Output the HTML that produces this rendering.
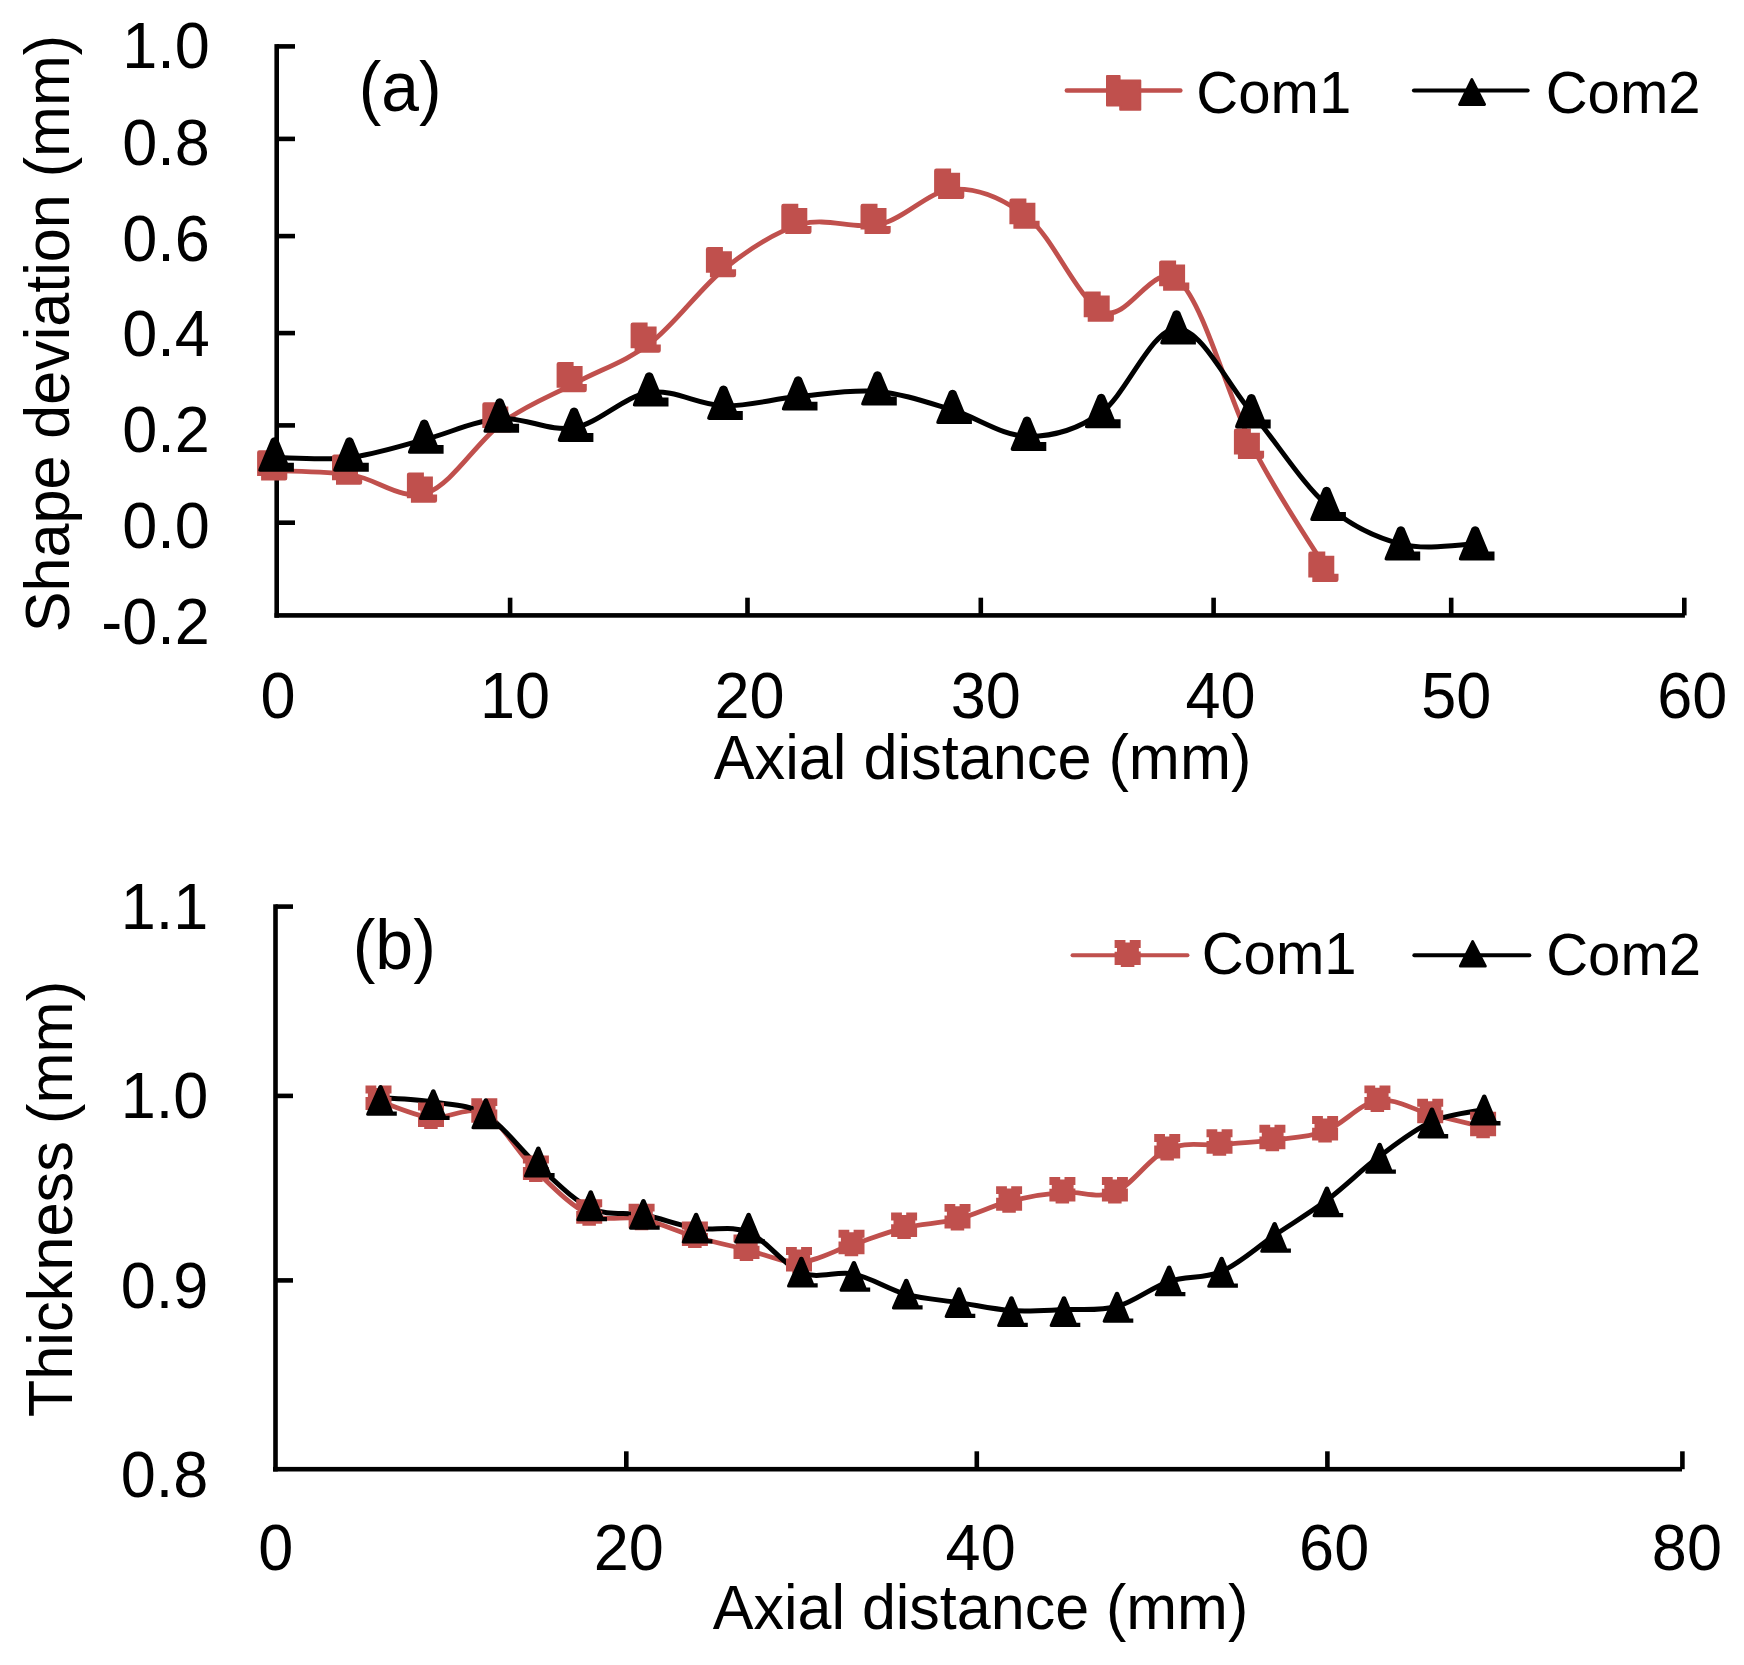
<!DOCTYPE html>
<html><head><meta charset="utf-8"><title>Shape deviation and thickness charts</title>
<style>
html,body{margin:0;padding:0;background:#fff;}
body{width:1744px;height:1665px;overflow:hidden;}
svg{display:block;}
text{font-family:"Liberation Sans", sans-serif;fill:#000;}
</style></head>
<body>
<svg xmlns="http://www.w3.org/2000/svg" width="1744" height="1665" viewBox="0 0 1744 1665">
<rect x="0" y="0" width="1744" height="1665" fill="#fff"/>
<rect x="274.40" y="44.10" width="4.60" height="573.60" fill="#000"/>
<rect x="276.70" y="44.10" width="18.30" height="4.60" fill="#000"/>
<rect x="276.70" y="136.60" width="18.30" height="4.60" fill="#000"/>
<rect x="276.70" y="233.80" width="18.30" height="4.60" fill="#000"/>
<rect x="276.70" y="330.80" width="18.30" height="4.60" fill="#000"/>
<rect x="276.70" y="423.10" width="18.30" height="4.60" fill="#000"/>
<rect x="276.70" y="520.40" width="18.30" height="4.60" fill="#000"/>
<rect x="274.50" y="613.10" width="1410.40" height="4.60" fill="#000"/>
<rect x="507.80" y="597.70" width="4.60" height="17.70" fill="#000"/>
<rect x="745.20" y="597.70" width="4.60" height="17.70" fill="#000"/>
<rect x="978.50" y="597.70" width="4.60" height="17.70" fill="#000"/>
<rect x="1211.30" y="597.70" width="4.60" height="17.70" fill="#000"/>
<rect x="1448.90" y="597.70" width="4.60" height="17.70" fill="#000"/>
<rect x="1682.00" y="597.70" width="4.60" height="17.70" fill="#000"/>
<text x="0" y="0" transform="translate(209.80,68.45) scale(1,1.03)" font-size="63.0" text-anchor="end">1.0</text>
<text x="0" y="0" transform="translate(209.80,164.55) scale(1,1.03)" font-size="63.0" text-anchor="end">0.8</text>
<text x="0" y="0" transform="translate(209.80,260.65) scale(1,1.03)" font-size="63.0" text-anchor="end">0.6</text>
<text x="0" y="0" transform="translate(209.80,355.95) scale(1,1.03)" font-size="63.0" text-anchor="end">0.4</text>
<text x="0" y="0" transform="translate(209.80,452.20) scale(1,1.03)" font-size="63.0" text-anchor="end">0.2</text>
<text x="0" y="0" transform="translate(209.80,548.30) scale(1,1.03)" font-size="63.0" text-anchor="end">0.0</text>
<text x="0" y="0" transform="translate(209.80,643.95) scale(1,1.03)" font-size="63.0" text-anchor="end">-0.2</text>
<text x="0" y="0" transform="translate(278.05,717.90) scale(1,1.03)" font-size="63.0" text-anchor="middle">0</text>
<text x="0" y="0" transform="translate(515.00,717.90) scale(1,1.03)" font-size="63.0" text-anchor="middle">10</text>
<text x="0" y="0" transform="translate(749.55,717.90) scale(1,1.03)" font-size="63.0" text-anchor="middle">20</text>
<text x="0" y="0" transform="translate(985.75,717.90) scale(1,1.03)" font-size="63.0" text-anchor="middle">30</text>
<text x="0" y="0" transform="translate(1220.45,717.90) scale(1,1.03)" font-size="63.0" text-anchor="middle">40</text>
<text x="0" y="0" transform="translate(1456.20,717.90) scale(1,1.03)" font-size="63.0" text-anchor="middle">50</text>
<text x="0" y="0" transform="translate(1692.35,717.90) scale(1,1.03)" font-size="63.0" text-anchor="middle">60</text>
<text x="0" y="0" transform="translate(713.68,779.20) scale(1,1.03)" font-size="61.25" >Axial distance (mm)</text>
<text x="0" y="0" transform="translate(68.7,632.21) rotate(-90) scale(1,1.03)" font-size="61.07">Shape deviation (mm)</text>
<text x="0" y="0" transform="translate(358.80,110.90) scale(1,1.03)" font-size="67.8" >(a)</text>
<line x1="1066.8" y1="90.5" x2="1180.4" y2="90.5" stroke="#C0504D" stroke-width="4.4" stroke-linecap="round"/>
<polygon points="1107.00,76.00 1119.60,76.00 1119.60,80.50 1140.30,80.50 1140.30,109.80 1120.20,109.80 1120.20,105.40 1107.00,105.40" fill="#C0504D" stroke="#C0504D" stroke-width="2.0" stroke-linejoin="round"/>
<text x="0" y="0" transform="translate(1196.34,113.40) scale(1,1.03)" font-size="58.1" >Com1</text>
<line x1="1414" y1="90.5" x2="1527.6" y2="90.5" stroke="#000" stroke-width="4.2" stroke-linecap="round"/>
<polygon points="1471.80,79.50 1459.50,104.50 1484.60,104.50" fill="#000" stroke="#000" stroke-width="2.8" stroke-linejoin="round"/>
<text x="0" y="0" transform="translate(1545.64,113.00) scale(1,1.03)" font-size="58.1" >Com2</text>
<path d="M277.10,470.70 C289.58,471.42 327.03,471.30 352.00,475.00 C376.97,478.70 401.85,501.62 426.90,492.90 C451.95,484.18 477.35,441.12 502.30,422.70 C527.25,404.28 551.88,395.70 576.60,382.40 C601.32,369.10 625.72,362.05 650.60,342.90 C675.48,323.75 700.78,287.28 725.90,267.50 C751.02,247.72 775.53,231.42 801.30,224.20 C827.07,216.98 855.03,230.05 880.50,224.20 C905.97,218.35 929.28,189.97 954.10,189.10 C978.92,188.23 1004.47,198.53 1029.40,219.00 C1054.33,239.47 1078.75,301.58 1103.70,311.90 C1128.65,322.22 1154.07,258.03 1179.10,280.90 C1204.13,303.77 1229.03,400.57 1253.90,449.10 C1278.77,497.63 1315.90,551.60 1328.30,572.10" fill="none" stroke="#C0504D" stroke-width="4.8" stroke-linejoin="round" stroke-linecap="round"/>
<path d="M274.60,457.60 C287.08,457.60 324.55,460.58 349.50,457.60 C374.45,454.62 399.25,446.20 424.30,439.70 C449.35,433.20 474.83,420.58 499.80,418.60 C524.77,416.62 549.20,432.17 574.10,427.80 C599.00,423.43 624.30,396.07 649.20,392.40 C674.10,388.73 698.67,405.12 723.50,405.80 C748.33,406.48 772.53,398.90 798.20,396.50 C823.87,394.10 851.77,389.15 877.50,391.40 C903.23,393.65 927.68,402.52 952.60,410.00 C977.52,417.48 1002.22,435.87 1027.00,436.30 C1051.78,436.73 1076.37,430.57 1101.30,412.60 C1126.23,394.63 1151.58,328.55 1176.60,328.50 C1201.62,328.45 1226.40,382.90 1251.40,412.30 C1276.40,441.70 1301.68,482.93 1326.60,504.90 C1351.52,526.87 1376.13,537.57 1400.90,544.10 C1425.67,550.63 1462.82,544.10 1475.20,544.10" fill="none" stroke="#000" stroke-width="5.0" stroke-linejoin="round" stroke-linecap="round"/>
<path d="M259.30,450.20 L274.10,450.20 L274.10,454.40 L283.10,454.40 L283.10,472.40 L287.30,472.40 L287.30,478.30 Q287.30,480.50 285.10,480.50 L261.10,480.50 L261.10,476.00 L257.10,476.00 L257.10,452.40 Q257.10,450.20 259.30,450.20 Z" fill="#C0504D"/>
<path d="M334.20,454.50 L349.00,454.50 L349.00,458.70 L358.00,458.70 L358.00,476.70 L362.20,476.70 L362.20,482.60 Q362.20,484.80 360.00,484.80 L336.00,484.80 L336.00,480.30 L332.00,480.30 L332.00,456.70 Q332.00,454.50 334.20,454.50 Z" fill="#C0504D"/>
<path d="M409.10,472.40 L423.90,472.40 L423.90,476.60 L432.90,476.60 L432.90,494.60 L437.10,494.60 L437.10,500.50 Q437.10,502.70 434.90,502.70 L410.90,502.70 L410.90,498.20 L406.90,498.20 L406.90,474.60 Q406.90,472.40 409.10,472.40 Z" fill="#C0504D"/>
<path d="M484.50,402.20 L499.30,402.20 L499.30,406.40 L508.30,406.40 L508.30,424.40 L512.50,424.40 L512.50,430.30 Q512.50,432.50 510.30,432.50 L486.30,432.50 L486.30,428.00 L482.30,428.00 L482.30,404.40 Q482.30,402.20 484.50,402.20 Z" fill="#C0504D"/>
<path d="M558.80,361.90 L573.60,361.90 L573.60,366.10 L582.60,366.10 L582.60,384.10 L586.80,384.10 L586.80,390.00 Q586.80,392.20 584.60,392.20 L560.60,392.20 L560.60,387.70 L556.60,387.70 L556.60,364.10 Q556.60,361.90 558.80,361.90 Z" fill="#C0504D"/>
<path d="M632.80,322.40 L647.60,322.40 L647.60,326.60 L656.60,326.60 L656.60,344.60 L660.80,344.60 L660.80,350.50 Q660.80,352.70 658.60,352.70 L634.60,352.70 L634.60,348.20 L630.60,348.20 L630.60,324.60 Q630.60,322.40 632.80,322.40 Z" fill="#C0504D"/>
<path d="M708.10,247.00 L722.90,247.00 L722.90,251.20 L731.90,251.20 L731.90,269.20 L736.10,269.20 L736.10,275.10 Q736.10,277.30 733.90,277.30 L709.90,277.30 L709.90,272.80 L705.90,272.80 L705.90,249.20 Q705.90,247.00 708.10,247.00 Z" fill="#C0504D"/>
<path d="M783.50,203.70 L798.30,203.70 L798.30,207.90 L807.30,207.90 L807.30,225.90 L811.50,225.90 L811.50,231.80 Q811.50,234.00 809.30,234.00 L785.30,234.00 L785.30,229.50 L781.30,229.50 L781.30,205.90 Q781.30,203.70 783.50,203.70 Z" fill="#C0504D"/>
<path d="M862.70,203.70 L877.50,203.70 L877.50,207.90 L886.50,207.90 L886.50,225.90 L890.70,225.90 L890.70,231.80 Q890.70,234.00 888.50,234.00 L864.50,234.00 L864.50,229.50 L860.50,229.50 L860.50,205.90 Q860.50,203.70 862.70,203.70 Z" fill="#C0504D"/>
<path d="M936.30,168.60 L951.10,168.60 L951.10,172.80 L960.10,172.80 L960.10,190.80 L964.30,190.80 L964.30,196.70 Q964.30,198.90 962.10,198.90 L938.10,198.90 L938.10,194.40 L934.10,194.40 L934.10,170.80 Q934.10,168.60 936.30,168.60 Z" fill="#C0504D"/>
<path d="M1011.60,198.50 L1026.40,198.50 L1026.40,202.70 L1035.40,202.70 L1035.40,220.70 L1039.60,220.70 L1039.60,226.60 Q1039.60,228.80 1037.40,228.80 L1013.40,228.80 L1013.40,224.30 L1009.40,224.30 L1009.40,200.70 Q1009.40,198.50 1011.60,198.50 Z" fill="#C0504D"/>
<path d="M1085.90,291.40 L1100.70,291.40 L1100.70,295.60 L1109.70,295.60 L1109.70,313.60 L1113.90,313.60 L1113.90,319.50 Q1113.90,321.70 1111.70,321.70 L1087.70,321.70 L1087.70,317.20 L1083.70,317.20 L1083.70,293.60 Q1083.70,291.40 1085.90,291.40 Z" fill="#C0504D"/>
<path d="M1161.30,260.40 L1176.10,260.40 L1176.10,264.60 L1185.10,264.60 L1185.10,282.60 L1189.30,282.60 L1189.30,288.50 Q1189.30,290.70 1187.10,290.70 L1163.10,290.70 L1163.10,286.20 L1159.10,286.20 L1159.10,262.60 Q1159.10,260.40 1161.30,260.40 Z" fill="#C0504D"/>
<path d="M1236.10,428.60 L1250.90,428.60 L1250.90,432.80 L1259.90,432.80 L1259.90,450.80 L1264.10,450.80 L1264.10,456.70 Q1264.10,458.90 1261.90,458.90 L1237.90,458.90 L1237.90,454.40 L1233.90,454.40 L1233.90,430.80 Q1233.90,428.60 1236.10,428.60 Z" fill="#C0504D"/>
<path d="M1310.50,551.60 L1325.30,551.60 L1325.30,555.80 L1334.30,555.80 L1334.30,573.80 L1338.50,573.80 L1338.50,579.70 Q1338.50,581.90 1336.30,581.90 L1312.30,581.90 L1312.30,577.40 L1308.30,577.40 L1308.30,553.80 Q1308.30,551.60 1310.50,551.60 Z" fill="#C0504D"/>
<path d="M270.96,439.10 A4.60,4.60 0 0 1 278.18,439.13 L287.90,462.80 L293.90,462.80 L293.90,471.70 L260.30,471.70 Q257.30,471.70 258.69,468.38 Z" fill="#000"/>
<path d="M345.86,439.10 A4.60,4.60 0 0 1 353.08,439.13 L362.80,462.80 L368.80,462.80 L368.80,471.70 L335.20,471.70 Q332.20,471.70 333.59,468.38 Z" fill="#000"/>
<path d="M420.66,421.20 A4.60,4.60 0 0 1 427.88,421.23 L437.60,444.90 L443.60,444.90 L443.60,453.80 L410.00,453.80 Q407.00,453.80 408.39,450.48 Z" fill="#000"/>
<path d="M496.16,400.10 A4.60,4.60 0 0 1 503.38,400.13 L513.10,423.80 L519.10,423.80 L519.10,432.70 L485.50,432.70 Q482.50,432.70 483.89,429.38 Z" fill="#000"/>
<path d="M570.46,409.30 A4.60,4.60 0 0 1 577.68,409.33 L587.40,433.00 L593.40,433.00 L593.40,441.90 L559.80,441.90 Q556.80,441.90 558.19,438.58 Z" fill="#000"/>
<path d="M645.56,373.90 A4.60,4.60 0 0 1 652.78,373.93 L662.50,397.60 L668.50,397.60 L668.50,406.50 L634.90,406.50 Q631.90,406.50 633.29,403.18 Z" fill="#000"/>
<path d="M719.86,387.30 A4.60,4.60 0 0 1 727.08,387.33 L736.80,411.00 L742.80,411.00 L742.80,419.90 L709.20,419.90 Q706.20,419.90 707.59,416.58 Z" fill="#000"/>
<path d="M794.56,378.00 A4.60,4.60 0 0 1 801.78,378.03 L811.50,401.70 L817.50,401.70 L817.50,410.60 L783.90,410.60 Q780.90,410.60 782.29,407.28 Z" fill="#000"/>
<path d="M873.86,372.90 A4.60,4.60 0 0 1 881.08,372.93 L890.80,396.60 L896.80,396.60 L896.80,405.50 L863.20,405.50 Q860.20,405.50 861.59,402.18 Z" fill="#000"/>
<path d="M948.96,391.50 A4.60,4.60 0 0 1 956.18,391.53 L965.90,415.20 L971.90,415.20 L971.90,424.10 L938.30,424.10 Q935.30,424.10 936.69,420.78 Z" fill="#000"/>
<path d="M1023.36,418.30 A4.60,4.60 0 0 1 1030.58,418.33 L1040.30,442.00 L1046.30,442.00 L1046.30,450.90 L1012.70,450.90 Q1009.70,450.90 1011.09,447.58 Z" fill="#000"/>
<path d="M1097.66,395.60 A4.60,4.60 0 0 1 1104.88,395.63 L1114.60,419.30 L1120.60,419.30 L1120.60,428.20 L1087.00,428.20 Q1084.00,428.20 1085.39,424.88 Z" fill="#000"/>
<path d="M1172.96,312.00 A4.60,4.60 0 0 1 1180.18,312.03 L1189.90,335.70 L1195.90,335.70 L1195.90,344.60 L1162.30,344.60 Q1159.30,344.60 1160.69,341.28 Z" fill="#000"/>
<path d="M1247.76,395.80 A4.60,4.60 0 0 1 1254.98,395.83 L1264.70,419.50 L1270.70,419.50 L1270.70,428.40 L1237.10,428.40 Q1234.10,428.40 1235.49,425.08 Z" fill="#000"/>
<path d="M1322.96,488.40 A4.60,4.60 0 0 1 1330.18,488.43 L1339.90,512.10 L1345.90,512.10 L1345.90,521.00 L1312.30,521.00 Q1309.30,521.00 1310.69,517.68 Z" fill="#000"/>
<path d="M1397.26,527.90 A4.60,4.60 0 0 1 1404.48,527.93 L1414.20,551.60 L1420.20,551.60 L1420.20,560.50 L1386.60,560.50 Q1383.60,560.50 1384.99,557.18 Z" fill="#000"/>
<path d="M1471.56,527.90 A4.60,4.60 0 0 1 1478.78,527.93 L1488.50,551.60 L1494.50,551.60 L1494.50,560.50 L1460.90,560.50 Q1457.90,560.50 1459.29,557.18 Z" fill="#000"/>
<rect x="273.20" y="904.30" width="4.60" height="567.20" fill="#000"/>
<rect x="275.50" y="904.30" width="17.50" height="4.60" fill="#000"/>
<rect x="275.50" y="1093.60" width="17.50" height="4.60" fill="#000"/>
<rect x="275.50" y="1278.10" width="17.50" height="4.60" fill="#000"/>
<rect x="273.00" y="1466.90" width="1409.00" height="4.60" fill="#000"/>
<rect x="624.00" y="1451.30" width="4.60" height="17.90" fill="#000"/>
<rect x="974.50" y="1451.30" width="4.60" height="17.90" fill="#000"/>
<rect x="1325.10" y="1451.30" width="4.60" height="17.90" fill="#000"/>
<rect x="1680.10" y="1451.30" width="4.60" height="17.90" fill="#000"/>
<text x="0" y="0" transform="translate(208.30,929.05) scale(1,1.03)" font-size="63.0" text-anchor="end">1.1</text>
<text x="0" y="0" transform="translate(208.30,1117.95) scale(1,1.03)" font-size="63.0" text-anchor="end">1.0</text>
<text x="0" y="0" transform="translate(208.30,1308.15) scale(1,1.03)" font-size="63.0" text-anchor="end">0.9</text>
<text x="0" y="0" transform="translate(208.30,1496.95) scale(1,1.03)" font-size="63.0" text-anchor="end">0.8</text>
<text x="0" y="0" transform="translate(275.80,1570.40) scale(1,1.03)" font-size="63.0" text-anchor="middle">0</text>
<text x="0" y="0" transform="translate(628.80,1570.40) scale(1,1.03)" font-size="63.0" text-anchor="middle">20</text>
<text x="0" y="0" transform="translate(980.65,1570.40) scale(1,1.03)" font-size="63.0" text-anchor="middle">40</text>
<text x="0" y="0" transform="translate(1334.15,1570.40) scale(1,1.03)" font-size="63.0" text-anchor="middle">60</text>
<text x="0" y="0" transform="translate(1686.90,1570.40) scale(1,1.03)" font-size="63.0" text-anchor="middle">80</text>
<text x="0" y="0" transform="translate(712.78,1628.80) scale(1,1.03)" font-size="61.0" >Axial distance (mm)</text>
<text x="0" y="0" transform="translate(71.7,1417.35) rotate(-90) scale(1,1.03)" font-size="61.4">Thickness (mm)</text>
<text x="0" y="0" transform="translate(352.68,968.50) scale(1,1.03)" font-size="68.0" >(b)</text>
<line x1="1072.5" y1="955.3" x2="1187.5" y2="955.3" stroke="#C0504D" stroke-width="3.9" stroke-linecap="round"/>
<path d="M1114.60,940.00 L1125.44,940.00 L1125.44,942.45 L1129.76,942.45 L1129.76,940.00 L1140.70,940.00 L1140.70,948.05 L1138.89,948.05 L1138.89,951.62 L1140.70,951.62 L1140.70,964.96 L1134.38,964.96 L1134.38,967.00 L1120.82,967.00 L1120.82,964.96 L1114.60,964.96 L1114.60,951.82 L1117.01,951.82 L1117.01,948.05 L1114.60,948.05 Z" fill="#C0504D"/>
<text x="0" y="0" transform="translate(1201.64,974.30) scale(1,1.03)" font-size="58.1" >Com1</text>
<line x1="1414.3" y1="955.3" x2="1529.4" y2="955.3" stroke="#000" stroke-width="3.9" stroke-linecap="round"/>
<polygon points="1472.60,941.50 1460.30,966.20 1485.40,966.20" fill="#000" stroke="#000" stroke-width="2.8" stroke-linejoin="round"/>
<text x="0" y="0" transform="translate(1546.14,974.50) scale(1,1.03)" font-size="58.1" >Com2</text>
<path d="M378.50,1100.70 C387.25,1103.53 413.37,1115.58 431.00,1117.70 C448.63,1119.82 466.82,1104.57 484.30,1113.40 C501.78,1122.23 518.42,1153.85 535.90,1170.70 C553.38,1187.55 571.58,1206.47 589.20,1214.50 C606.82,1222.53 623.98,1215.20 641.60,1218.90 C659.22,1222.60 677.42,1231.58 694.90,1236.70 C712.38,1241.82 729.15,1245.35 746.50,1249.60 C763.85,1253.85 781.50,1262.97 799.00,1262.20 C816.50,1261.43 833.98,1250.73 851.50,1245.00 C869.02,1239.27 886.43,1232.12 904.10,1227.80 C921.77,1223.48 940.00,1223.50 957.50,1219.10 C975.00,1214.70 991.62,1205.87 1009.10,1201.40 C1026.58,1196.93 1044.77,1193.82 1062.40,1192.30 C1080.03,1190.78 1097.43,1199.48 1114.90,1192.30 C1132.37,1185.12 1149.77,1157.17 1167.20,1149.20 C1184.63,1141.23 1201.97,1146.03 1219.50,1144.50 C1237.03,1142.97 1254.80,1142.20 1272.40,1140.00 C1290.00,1137.80 1307.60,1137.87 1325.10,1131.30 C1342.60,1124.73 1359.88,1103.48 1377.40,1100.60 C1394.92,1097.72 1412.58,1109.60 1430.20,1114.00 C1447.82,1118.40 1474.28,1124.83 1483.10,1127.00" fill="none" stroke="#C0504D" stroke-width="4.8" stroke-linejoin="round" stroke-linecap="round"/>
<path d="M380.60,1097.60 C389.40,1098.33 415.85,1099.13 433.40,1102.00 C450.95,1104.87 468.40,1104.12 485.90,1114.80 C503.40,1125.48 520.92,1150.52 538.40,1166.10 C555.88,1181.68 573.28,1200.18 590.80,1208.30 C608.32,1216.42 625.93,1211.47 643.50,1214.80 C661.07,1218.13 678.67,1225.40 696.20,1228.30 C713.73,1231.20 731.15,1224.80 748.70,1232.20 C766.25,1239.60 783.95,1265.72 801.50,1272.70 C819.05,1279.68 836.52,1270.48 854.00,1274.10 C871.48,1277.72 888.88,1289.65 906.40,1294.40 C923.92,1299.15 941.57,1299.90 959.10,1302.60 C976.63,1305.30 994.10,1309.43 1011.60,1310.60 C1029.10,1311.77 1046.52,1310.28 1064.10,1309.60 C1081.68,1308.92 1099.58,1311.22 1117.10,1306.50 C1134.62,1301.78 1151.77,1287.15 1169.20,1281.30 C1186.63,1275.45 1204.12,1279.08 1221.70,1271.40 C1239.28,1263.72 1257.15,1247.08 1274.70,1235.20 C1292.25,1223.32 1309.50,1213.28 1327.00,1200.10 C1344.50,1186.92 1362.20,1169.20 1379.70,1156.10 C1397.20,1143.00 1414.57,1129.28 1432.00,1121.50 C1449.43,1113.72 1475.58,1111.42 1484.30,1109.40" fill="none" stroke="#000" stroke-width="5.0" stroke-linejoin="round" stroke-linecap="round"/>
<path d="M365.50,1085.50 L376.30,1085.50 L376.30,1087.90 L380.60,1087.90 L380.60,1085.50 L391.50,1085.50 L391.50,1093.40 L389.70,1093.40 L389.70,1096.90 L391.50,1096.90 L391.50,1110.00 L385.20,1110.00 L385.20,1112.00 L371.70,1112.00 L371.70,1110.00 L365.50,1110.00 L365.50,1097.10 L367.90,1097.10 L367.90,1093.40 L365.50,1093.40 Z" fill="#C0504D"/>
<path d="M418.00,1102.50 L428.80,1102.50 L428.80,1104.90 L433.10,1104.90 L433.10,1102.50 L444.00,1102.50 L444.00,1110.40 L442.20,1110.40 L442.20,1113.90 L444.00,1113.90 L444.00,1127.00 L437.70,1127.00 L437.70,1129.00 L424.20,1129.00 L424.20,1127.00 L418.00,1127.00 L418.00,1114.10 L420.40,1114.10 L420.40,1110.40 L418.00,1110.40 Z" fill="#C0504D"/>
<path d="M471.30,1098.20 L482.10,1098.20 L482.10,1100.60 L486.40,1100.60 L486.40,1098.20 L497.30,1098.20 L497.30,1106.10 L495.50,1106.10 L495.50,1109.60 L497.30,1109.60 L497.30,1122.70 L491.00,1122.70 L491.00,1124.70 L477.50,1124.70 L477.50,1122.70 L471.30,1122.70 L471.30,1109.80 L473.70,1109.80 L473.70,1106.10 L471.30,1106.10 Z" fill="#C0504D"/>
<path d="M522.90,1155.50 L533.70,1155.50 L533.70,1157.90 L538.00,1157.90 L538.00,1155.50 L548.90,1155.50 L548.90,1163.40 L547.10,1163.40 L547.10,1166.90 L548.90,1166.90 L548.90,1180.00 L542.60,1180.00 L542.60,1182.00 L529.10,1182.00 L529.10,1180.00 L522.90,1180.00 L522.90,1167.10 L525.30,1167.10 L525.30,1163.40 L522.90,1163.40 Z" fill="#C0504D"/>
<path d="M576.20,1199.30 L587.00,1199.30 L587.00,1201.70 L591.30,1201.70 L591.30,1199.30 L602.20,1199.30 L602.20,1207.20 L600.40,1207.20 L600.40,1210.70 L602.20,1210.70 L602.20,1223.80 L595.90,1223.80 L595.90,1225.80 L582.40,1225.80 L582.40,1223.80 L576.20,1223.80 L576.20,1210.90 L578.60,1210.90 L578.60,1207.20 L576.20,1207.20 Z" fill="#C0504D"/>
<path d="M628.60,1203.70 L639.40,1203.70 L639.40,1206.10 L643.70,1206.10 L643.70,1203.70 L654.60,1203.70 L654.60,1211.60 L652.80,1211.60 L652.80,1215.10 L654.60,1215.10 L654.60,1228.20 L648.30,1228.20 L648.30,1230.20 L634.80,1230.20 L634.80,1228.20 L628.60,1228.20 L628.60,1215.30 L631.00,1215.30 L631.00,1211.60 L628.60,1211.60 Z" fill="#C0504D"/>
<path d="M681.90,1221.50 L692.70,1221.50 L692.70,1223.90 L697.00,1223.90 L697.00,1221.50 L707.90,1221.50 L707.90,1229.40 L706.10,1229.40 L706.10,1232.90 L707.90,1232.90 L707.90,1246.00 L701.60,1246.00 L701.60,1248.00 L688.10,1248.00 L688.10,1246.00 L681.90,1246.00 L681.90,1233.10 L684.30,1233.10 L684.30,1229.40 L681.90,1229.40 Z" fill="#C0504D"/>
<path d="M733.50,1234.40 L744.30,1234.40 L744.30,1236.80 L748.60,1236.80 L748.60,1234.40 L759.50,1234.40 L759.50,1242.30 L757.70,1242.30 L757.70,1245.80 L759.50,1245.80 L759.50,1258.90 L753.20,1258.90 L753.20,1260.90 L739.70,1260.90 L739.70,1258.90 L733.50,1258.90 L733.50,1246.00 L735.90,1246.00 L735.90,1242.30 L733.50,1242.30 Z" fill="#C0504D"/>
<path d="M786.00,1247.00 L796.80,1247.00 L796.80,1249.40 L801.10,1249.40 L801.10,1247.00 L812.00,1247.00 L812.00,1254.90 L810.20,1254.90 L810.20,1258.40 L812.00,1258.40 L812.00,1271.50 L805.70,1271.50 L805.70,1273.50 L792.20,1273.50 L792.20,1271.50 L786.00,1271.50 L786.00,1258.60 L788.40,1258.60 L788.40,1254.90 L786.00,1254.90 Z" fill="#C0504D"/>
<path d="M838.50,1229.80 L849.30,1229.80 L849.30,1232.20 L853.60,1232.20 L853.60,1229.80 L864.50,1229.80 L864.50,1237.70 L862.70,1237.70 L862.70,1241.20 L864.50,1241.20 L864.50,1254.30 L858.20,1254.30 L858.20,1256.30 L844.70,1256.30 L844.70,1254.30 L838.50,1254.30 L838.50,1241.40 L840.90,1241.40 L840.90,1237.70 L838.50,1237.70 Z" fill="#C0504D"/>
<path d="M891.10,1212.60 L901.90,1212.60 L901.90,1215.00 L906.20,1215.00 L906.20,1212.60 L917.10,1212.60 L917.10,1220.50 L915.30,1220.50 L915.30,1224.00 L917.10,1224.00 L917.10,1237.10 L910.80,1237.10 L910.80,1239.10 L897.30,1239.10 L897.30,1237.10 L891.10,1237.10 L891.10,1224.20 L893.50,1224.20 L893.50,1220.50 L891.10,1220.50 Z" fill="#C0504D"/>
<path d="M944.50,1203.90 L955.30,1203.90 L955.30,1206.30 L959.60,1206.30 L959.60,1203.90 L970.50,1203.90 L970.50,1211.80 L968.70,1211.80 L968.70,1215.30 L970.50,1215.30 L970.50,1228.40 L964.20,1228.40 L964.20,1230.40 L950.70,1230.40 L950.70,1228.40 L944.50,1228.40 L944.50,1215.50 L946.90,1215.50 L946.90,1211.80 L944.50,1211.80 Z" fill="#C0504D"/>
<path d="M996.10,1186.20 L1006.90,1186.20 L1006.90,1188.60 L1011.20,1188.60 L1011.20,1186.20 L1022.10,1186.20 L1022.10,1194.10 L1020.30,1194.10 L1020.30,1197.60 L1022.10,1197.60 L1022.10,1210.70 L1015.80,1210.70 L1015.80,1212.70 L1002.30,1212.70 L1002.30,1210.70 L996.10,1210.70 L996.10,1197.80 L998.50,1197.80 L998.50,1194.10 L996.10,1194.10 Z" fill="#C0504D"/>
<path d="M1049.40,1177.10 L1060.20,1177.10 L1060.20,1179.50 L1064.50,1179.50 L1064.50,1177.10 L1075.40,1177.10 L1075.40,1185.00 L1073.60,1185.00 L1073.60,1188.50 L1075.40,1188.50 L1075.40,1201.60 L1069.10,1201.60 L1069.10,1203.60 L1055.60,1203.60 L1055.60,1201.60 L1049.40,1201.60 L1049.40,1188.70 L1051.80,1188.70 L1051.80,1185.00 L1049.40,1185.00 Z" fill="#C0504D"/>
<path d="M1101.90,1177.10 L1112.70,1177.10 L1112.70,1179.50 L1117.00,1179.50 L1117.00,1177.10 L1127.90,1177.10 L1127.90,1185.00 L1126.10,1185.00 L1126.10,1188.50 L1127.90,1188.50 L1127.90,1201.60 L1121.60,1201.60 L1121.60,1203.60 L1108.10,1203.60 L1108.10,1201.60 L1101.90,1201.60 L1101.90,1188.70 L1104.30,1188.70 L1104.30,1185.00 L1101.90,1185.00 Z" fill="#C0504D"/>
<path d="M1154.20,1134.00 L1165.00,1134.00 L1165.00,1136.40 L1169.30,1136.40 L1169.30,1134.00 L1180.20,1134.00 L1180.20,1141.90 L1178.40,1141.90 L1178.40,1145.40 L1180.20,1145.40 L1180.20,1158.50 L1173.90,1158.50 L1173.90,1160.50 L1160.40,1160.50 L1160.40,1158.50 L1154.20,1158.50 L1154.20,1145.60 L1156.60,1145.60 L1156.60,1141.90 L1154.20,1141.90 Z" fill="#C0504D"/>
<path d="M1206.50,1129.30 L1217.30,1129.30 L1217.30,1131.70 L1221.60,1131.70 L1221.60,1129.30 L1232.50,1129.30 L1232.50,1137.20 L1230.70,1137.20 L1230.70,1140.70 L1232.50,1140.70 L1232.50,1153.80 L1226.20,1153.80 L1226.20,1155.80 L1212.70,1155.80 L1212.70,1153.80 L1206.50,1153.80 L1206.50,1140.90 L1208.90,1140.90 L1208.90,1137.20 L1206.50,1137.20 Z" fill="#C0504D"/>
<path d="M1259.40,1124.80 L1270.20,1124.80 L1270.20,1127.20 L1274.50,1127.20 L1274.50,1124.80 L1285.40,1124.80 L1285.40,1132.70 L1283.60,1132.70 L1283.60,1136.20 L1285.40,1136.20 L1285.40,1149.30 L1279.10,1149.30 L1279.10,1151.30 L1265.60,1151.30 L1265.60,1149.30 L1259.40,1149.30 L1259.40,1136.40 L1261.80,1136.40 L1261.80,1132.70 L1259.40,1132.70 Z" fill="#C0504D"/>
<path d="M1312.10,1116.10 L1322.90,1116.10 L1322.90,1118.50 L1327.20,1118.50 L1327.20,1116.10 L1338.10,1116.10 L1338.10,1124.00 L1336.30,1124.00 L1336.30,1127.50 L1338.10,1127.50 L1338.10,1140.60 L1331.80,1140.60 L1331.80,1142.60 L1318.30,1142.60 L1318.30,1140.60 L1312.10,1140.60 L1312.10,1127.70 L1314.50,1127.70 L1314.50,1124.00 L1312.10,1124.00 Z" fill="#C0504D"/>
<path d="M1364.40,1085.40 L1375.20,1085.40 L1375.20,1087.80 L1379.50,1087.80 L1379.50,1085.40 L1390.40,1085.40 L1390.40,1093.30 L1388.60,1093.30 L1388.60,1096.80 L1390.40,1096.80 L1390.40,1109.90 L1384.10,1109.90 L1384.10,1111.90 L1370.60,1111.90 L1370.60,1109.90 L1364.40,1109.90 L1364.40,1097.00 L1366.80,1097.00 L1366.80,1093.30 L1364.40,1093.30 Z" fill="#C0504D"/>
<path d="M1417.20,1098.80 L1428.00,1098.80 L1428.00,1101.20 L1432.30,1101.20 L1432.30,1098.80 L1443.20,1098.80 L1443.20,1106.70 L1441.40,1106.70 L1441.40,1110.20 L1443.20,1110.20 L1443.20,1123.30 L1436.90,1123.30 L1436.90,1125.30 L1423.40,1125.30 L1423.40,1123.30 L1417.20,1123.30 L1417.20,1110.40 L1419.60,1110.40 L1419.60,1106.70 L1417.20,1106.70 Z" fill="#C0504D"/>
<path d="M1470.10,1111.80 L1480.90,1111.80 L1480.90,1114.20 L1485.20,1114.20 L1485.20,1111.80 L1496.10,1111.80 L1496.10,1119.70 L1494.30,1119.70 L1494.30,1123.20 L1496.10,1123.20 L1496.10,1136.30 L1489.80,1136.30 L1489.80,1138.30 L1476.30,1138.30 L1476.30,1136.30 L1470.10,1136.30 L1470.10,1123.40 L1472.50,1123.40 L1472.50,1119.70 L1470.10,1119.70 Z" fill="#C0504D"/>
<path d="M378.60,1085.92 A2.40,2.40 0 0 1 382.47,1085.97 L393.00,1111.50 L396.80,1111.50 L396.80,1115.80 L367.80,1115.80 Q365.30,1115.80 366.52,1113.06 Z" fill="#000"/>
<path d="M431.40,1090.22 A2.40,2.40 0 0 1 435.27,1090.27 L445.80,1115.80 L449.60,1115.80 L449.60,1120.10 L420.60,1120.10 Q418.10,1120.10 419.32,1117.36 Z" fill="#000"/>
<path d="M483.90,1099.32 A2.40,2.40 0 0 1 487.77,1099.37 L498.30,1124.90 L502.10,1124.90 L502.10,1129.20 L473.10,1129.20 Q470.60,1129.20 471.82,1126.46 Z" fill="#000"/>
<path d="M536.40,1147.52 A2.40,2.40 0 0 1 540.27,1147.57 L550.80,1173.10 L554.60,1173.10 L554.60,1177.40 L525.60,1177.40 Q523.10,1177.40 524.32,1174.66 Z" fill="#000"/>
<path d="M588.80,1191.32 A2.40,2.40 0 0 1 592.67,1191.37 L603.20,1216.90 L607.00,1216.90 L607.00,1221.20 L578.00,1221.20 Q575.50,1221.20 576.72,1218.46 Z" fill="#000"/>
<path d="M641.50,1199.92 A2.40,2.40 0 0 1 645.37,1199.97 L655.90,1225.50 L659.70,1225.50 L659.70,1229.80 L630.70,1229.80 Q628.20,1229.80 629.42,1227.06 Z" fill="#000"/>
<path d="M694.20,1213.72 A2.40,2.40 0 0 1 698.07,1213.77 L708.60,1239.30 L712.40,1239.30 L712.40,1243.60 L683.40,1243.60 Q680.90,1243.60 682.12,1240.86 Z" fill="#000"/>
<path d="M746.70,1213.72 A2.40,2.40 0 0 1 750.57,1213.77 L761.10,1239.30 L764.90,1239.30 L764.90,1243.60 L735.90,1243.60 Q733.40,1243.60 734.62,1240.86 Z" fill="#000"/>
<path d="M799.50,1257.62 A2.40,2.40 0 0 1 803.37,1257.67 L813.90,1283.20 L817.70,1283.20 L817.70,1287.50 L788.70,1287.50 Q786.20,1287.50 787.42,1284.76 Z" fill="#000"/>
<path d="M852.00,1261.92 A2.40,2.40 0 0 1 855.87,1261.97 L866.40,1287.50 L870.20,1287.50 L870.20,1291.80 L841.20,1291.80 Q838.70,1291.80 839.92,1289.06 Z" fill="#000"/>
<path d="M904.40,1279.62 A2.40,2.40 0 0 1 908.27,1279.67 L918.80,1305.20 L922.60,1305.20 L922.60,1309.50 L893.60,1309.50 Q891.10,1309.50 892.32,1306.76 Z" fill="#000"/>
<path d="M957.10,1288.22 A2.40,2.40 0 0 1 960.97,1288.27 L971.50,1313.80 L975.30,1313.80 L975.30,1318.10 L946.30,1318.10 Q943.80,1318.10 945.02,1315.36 Z" fill="#000"/>
<path d="M1009.60,1297.12 A2.40,2.40 0 0 1 1013.47,1297.17 L1024.00,1322.70 L1027.80,1322.70 L1027.80,1327.00 L998.80,1327.00 Q996.30,1327.00 997.52,1324.26 Z" fill="#000"/>
<path d="M1062.10,1297.12 A2.40,2.40 0 0 1 1065.97,1297.17 L1076.50,1322.70 L1080.30,1322.70 L1080.30,1327.00 L1051.30,1327.00 Q1048.80,1327.00 1050.02,1324.26 Z" fill="#000"/>
<path d="M1115.10,1292.82 A2.40,2.40 0 0 1 1118.97,1292.87 L1129.50,1318.40 L1133.30,1318.40 L1133.30,1322.70 L1104.30,1322.70 Q1101.80,1322.70 1103.02,1319.96 Z" fill="#000"/>
<path d="M1167.20,1266.42 A2.40,2.40 0 0 1 1171.07,1266.47 L1181.60,1292.00 L1185.40,1292.00 L1185.40,1296.30 L1156.40,1296.30 Q1153.90,1296.30 1155.12,1293.56 Z" fill="#000"/>
<path d="M1219.70,1257.82 A2.40,2.40 0 0 1 1223.57,1257.87 L1234.10,1283.40 L1237.90,1283.40 L1237.90,1287.70 L1208.90,1287.70 Q1206.40,1287.70 1207.62,1284.96 Z" fill="#000"/>
<path d="M1272.70,1222.92 A2.40,2.40 0 0 1 1276.57,1222.97 L1287.10,1248.50 L1290.90,1248.50 L1290.90,1252.80 L1261.90,1252.80 Q1259.40,1252.80 1260.62,1250.06 Z" fill="#000"/>
<path d="M1325.00,1187.42 A2.40,2.40 0 0 1 1328.87,1187.47 L1339.40,1213.00 L1343.20,1213.00 L1343.20,1217.30 L1314.20,1217.30 Q1311.70,1217.30 1312.92,1214.56 Z" fill="#000"/>
<path d="M1377.70,1143.82 A2.40,2.40 0 0 1 1381.57,1143.87 L1392.10,1169.40 L1395.90,1169.40 L1395.90,1173.70 L1366.90,1173.70 Q1364.40,1173.70 1365.62,1170.96 Z" fill="#000"/>
<path d="M1430.00,1108.52 A2.40,2.40 0 0 1 1433.87,1108.57 L1444.40,1134.10 L1448.20,1134.10 L1448.20,1138.40 L1419.20,1138.40 Q1416.70,1138.40 1417.92,1135.66 Z" fill="#000"/>
<path d="M1482.30,1095.52 A2.40,2.40 0 0 1 1486.17,1095.57 L1496.70,1121.10 L1500.50,1121.10 L1500.50,1125.40 L1471.50,1125.40 Q1469.00,1125.40 1470.22,1122.66 Z" fill="#000"/>
</svg>
</body></html>
